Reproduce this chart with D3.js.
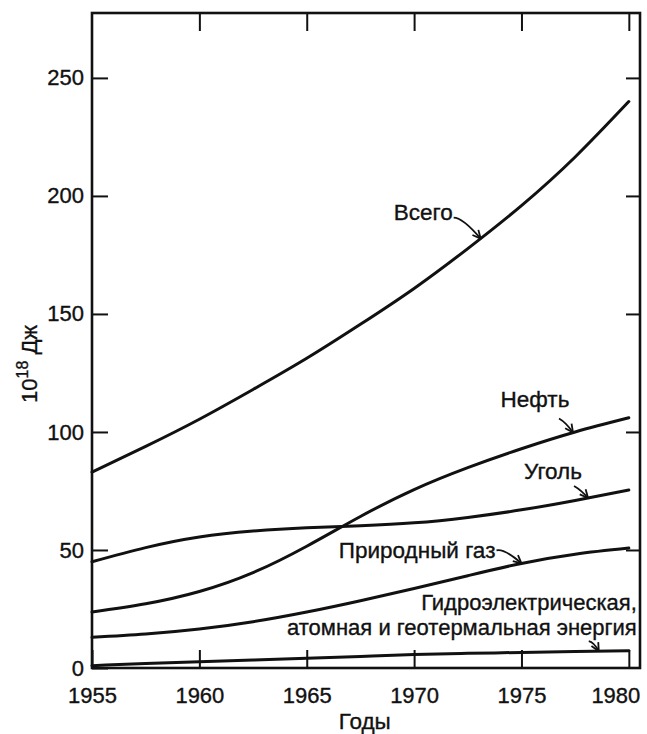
<!DOCTYPE html>
<html lang="ru">
<head>
<meta charset="utf-8">
<script src="https://cdn.jsdelivr.net/npm/d3@7/dist/d3.min.js"></script>
<style>
  html, body { margin: 0; padding: 0; background: #fff; }
  svg { display: block; }
  text { font-family: "Liberation Sans", Arial, Helvetica, sans-serif; fill: #111; stroke: #111; stroke-width: 0.35px; }
</style>
</head>
<body>
<svg id="chart" width="647" height="734"></svg>
<script>
// World primary energy consumption by source, 10^18 J
const years  = [1955, 1957.5, 1960, 1962.5, 1965, 1967.5, 1970, 1972.5, 1975, 1977.5, 1980];
const total  = [83, 93.9, 105.4, 118, 131.2, 145.6, 160.8, 177.7, 195.9, 216.5, 240];
const oil    = [23.7, 27.2, 32.4, 40.4, 51.6, 64.2, 75.6, 84.9, 92.9, 100, 106];
const coal   = [45, 51, 55.5, 58, 59.4, 60.3, 61.5, 63.8, 67, 71, 75.4];
const gas    = [13, 14.4, 16.5, 19.6, 23.7, 28.5, 33.7, 39.1, 44.3, 48.2, 50.8];
const hydro  = [1, 1.9, 2.7, 3.4, 4.1, 4.9, 5.7, 6.2, 6.6, 7.0, 7.3];

const xTicks = [1955, 1960, 1965, 1970, 1975, 1980];
const yTicks = [0, 50, 100, 150, 200, 250];

const seriesNames = ["Всего", "Нефть", "Уголь", "Природный газ", "Гидро"];
const seriesValues = [total, oil, coal, gas, hydro];

const svg = d3.select("#chart");
const W = 647, H = 734;
const margin = { top: 13, right: 7, bottom: 66, left: 92 };
const plotW = W - margin.left - margin.right;
const plotH = H - margin.top - margin.bottom;

const x = d3.scaleLinear().domain([1955, 1980.52]).range([0, plotW]);
const y = d3.scaleLinear().domain([0, 277.5]).range([plotH, 0]);

const g = svg.append("g").attr("transform", `translate(${margin.left},${margin.top})`);

// tick marks on all four sides, pointing inward
const styleAxis = sel => {
  sel.select(".domain").remove();
  sel.selectAll(".tick line").attr("stroke", "#111").attr("stroke-width", 2);
  sel.selectAll(".tick text").style("font-size", "22px").attr("fill", "#111");
};

g.append("g")
  .call(d3.axisLeft(y).tickValues(yTicks).tickSizeInner(-16).tickSizeOuter(0).tickPadding(8).tickFormat(d3.format("d")))
  .call(styleAxis);

g.append("g").attr("transform", `translate(${plotW},0)`)
  .call(d3.axisRight(y).tickValues(yTicks.filter(v => v > 0)).tickSizeInner(-14).tickSizeOuter(0).tickFormat(""))
  .call(styleAxis);

const xb = g.append("g").attr("transform", `translate(0,${plotH})`)
  .call(d3.axisBottom(x).tickValues(xTicks).tickSizeInner(-18).tickSizeOuter(0).tickPadding(19).tickFormat(d3.format("d")))
  .call(styleAxis);
// last year label kept inside the page
xb.selectAll(".tick text").filter(d => d === 1980).attr("text-anchor", "end").attr("x", 11);

g.append("g")
  .call(d3.axisTop(x).tickValues(xTicks.filter(v => v > 1955)).tickSizeInner(-18).tickSizeOuter(0).tickFormat(""))
  .call(styleAxis);

// frame
g.append("rect")
  .attr("x", 0).attr("y", 0).attr("width", plotW).attr("height", plotH)
  .attr("fill", "none").attr("stroke", "#111").attr("stroke-width", 2.6);

// curves
const line = d3.line()
  .x((d, i) => x(years[i]))
  .y(d => y(d))
  .curve(d3.curveNatural);

const paths = {};
seriesValues.forEach((vals, k) => {
  paths[seriesNames[k]] = g.append("path")
    .datum(vals)
    .attr("d", line)
    .attr("fill", "none")
    .attr("stroke", "#111")
    .attr("stroke-width", 3)
    .attr("stroke-linecap", "round")
    .node();
});

// point on a drawn curve at a given year
function pointOnCurve(node, year) {
  const px = x(year);
  let lo = 0, hi = node.getTotalLength();
  for (let i = 0; i < 40; i++) {
    const mid = (lo + hi) / 2;
    if (node.getPointAtLength(mid).x < px) lo = mid; else hi = mid;
  }
  const p = node.getPointAtLength((lo + hi) / 2);
  return { x: p.x, y: p.y };
}

// labels with pointer arrows
const labels = [
  { series: "Всего", year: 1973.1, lines: ["Всего"], anchor: "end", tx: -28, ty: -19, from: [-27, -21], ctrl: [-18, -21] },
  { series: "Нефть", year: 1977.4, lines: ["Нефть"], anchor: "middle", tx: -38, ty: -26, from: [-14, -14], ctrl: [-7, -10] },
  { series: "Уголь", year: 1978.1, lines: ["Уголь"], anchor: "middle", tx: -35, ty: -19, from: [-14, -12], ctrl: [-7, -8] },
  { series: "Природный газ", year: 1975, lines: ["Природный газ"], anchor: "end", tx: -26, ty: -5, from: [-25, -13], ctrl: [-17, -15] },
  { series: "Гидро", year: 1978.6, lines: ["Гидроэлектрическая,", "атомная и геотермальная энергия"], anchor: "end", tx: 38, ty: -41, from: [-10, -10], ctrl: [-5, -9] }
];

labels.forEach(a => {
  const t = pointOnCurve(paths[a.series], a.year);
  a.lines.forEach((s, i) => {
    g.append("text")
      .attr("x", t.x + a.tx)
      .attr("y", t.y + a.ty + i * 25)
      .attr("text-anchor", a.anchor)
      .style("font-size", a.lines.length > 1 ? "22px" : "22.5px")
      .text(s);
  });
  const sx = t.x + a.from[0], sy = t.y + a.from[1];
  const cx = t.x + a.ctrl[0], cy = t.y + a.ctrl[1];
  g.append("path")
    .attr("d", `M${sx},${sy} Q${cx},${cy} ${t.x},${t.y}`)
    .attr("fill", "none").attr("stroke", "#111").attr("stroke-width", 1.8);
  // open arrowhead
  const ang = Math.atan2(t.y - cy, t.x - cx);
  const len = 9, spread = 0.45;
  [ang + Math.PI - spread, ang + Math.PI + spread].forEach(b => {
    g.append("line")
      .attr("x1", t.x).attr("y1", t.y)
      .attr("x2", t.x + len * Math.cos(b)).attr("y2", t.y + len * Math.sin(b))
      .attr("stroke", "#111").attr("stroke-width", 1.8);
  });
});

// axis titles
svg.append("text")
  .attr("x", margin.left + x(1967.7))
  .attr("y", 729)
  .attr("text-anchor", "middle")
  .style("font-size", "22.5px")
  .text("Годы");

const yt = svg.append("text")
  .attr("transform", "translate(37,364) rotate(-90)")
  .attr("text-anchor", "middle")
  .style("font-size", "22px");
yt.append("tspan").text("10");
yt.append("tspan").attr("dy", -9).style("font-size", "16px").text("18");
yt.append("tspan").attr("dy", 9).text(" Дж");
</script>
</body>
</html>
